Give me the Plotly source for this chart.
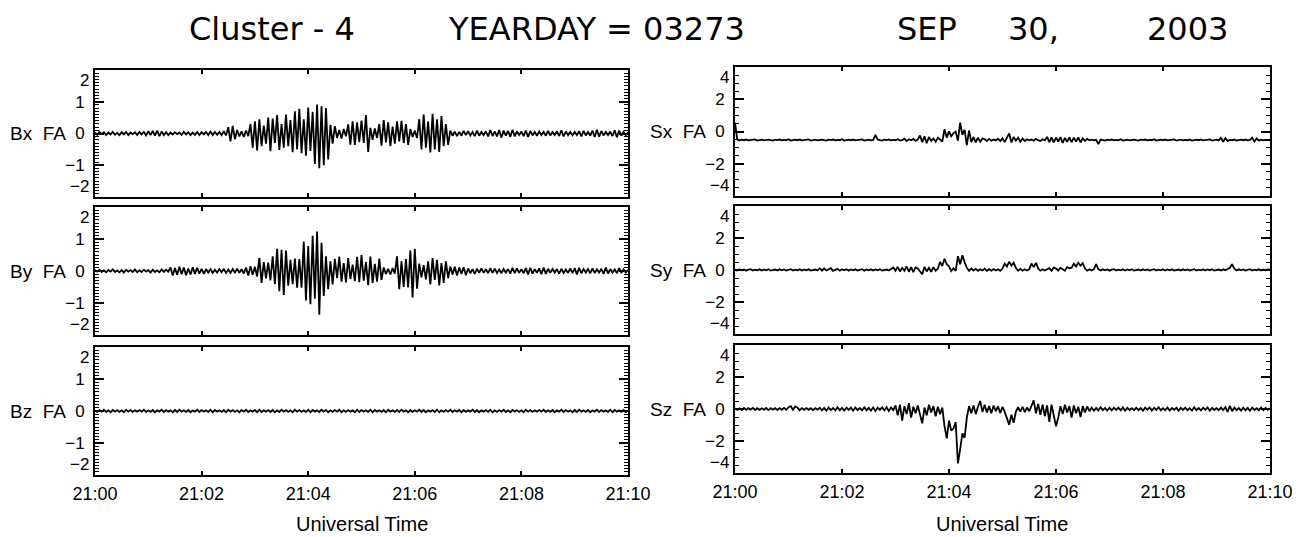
import pandas as pd
import plotly.graph_objects as go

# Field-aligned magnetic field components (nT) sampled every 2.5 s, 21:00-21:10 UT
bx = [0.03,-0.04,0.05,-0.02,0.04,-0.05,0.03,-0.03,0.05,-0.04,0.02,-0.05,0.04,-0.03,0.05,-0.05,0.03,-0.02,0.04,-0.05,
      0.05,-0.03,0.05,-0.06,0.07,-0.05,0.08,-0.07,0.09,-0.08,0.06,-0.05,0.04,-0.05,0.03,-0.03,0.04,-0.02,0.03,-0.04,
      0.05,-0.03,0.04,-0.05,0.03,-0.04,0.05,-0.05,0.04,-0.03,0.05,-0.05,0.06,-0.05,0.05,-0.04,0.05,-0.05,0.07,-0.06,
      0.20,-0.25,0.24,-0.18,0.11,-0.09,0.07,-0.11,0.09,-0.08,0.30,-0.45,0.38,-0.53,0.45,-0.40,0.25,-0.32,0.50,-0.56,
      0.47,-0.30,0.58,-0.52,0.30,-0.45,0.60,-0.40,0.42,-0.59,0.70,-0.50,0.78,-0.62,0.45,-0.70,0.82,-0.55,0.68,-0.96,
      0.91,-1.09,0.86,-1.00,0.80,-0.82,0.27,-0.32,0.23,-0.14,0.11,-0.16,0.14,-0.09,0.29,-0.35,0.38,-0.36,0.35,-0.27,
      0.41,-0.30,0.58,-0.58,0.18,-0.20,0.16,-0.14,0.30,-0.38,0.42,-0.28,0.35,-0.40,0.22,-0.32,0.38,-0.25,0.40,-0.30,
      0.30,-0.36,0.14,-0.11,0.09,-0.14,0.45,-0.50,0.60,-0.45,0.38,-0.60,0.62,-0.50,0.45,-0.58,0.55,-0.40,0.30,-0.36,
      0.09,-0.07,0.06,-0.08,0.05,-0.07,0.08,-0.05,0.07,-0.06,0.05,-0.08,0.09,-0.07,0.05,-0.05,0.07,-0.09,0.11,-0.08,
      0.07,-0.09,0.11,-0.13,0.09,-0.07,0.08,-0.10,0.12,-0.09,0.07,-0.05,0.06,-0.08,0.09,-0.11,0.08,-0.06,0.05,-0.07,
      0.06,-0.05,0.05,-0.07,0.08,-0.06,0.05,-0.05,0.07,-0.08,0.10,-0.09,0.06,-0.05,0.05,-0.06,0.05,-0.05,0.07,-0.09,
      0.08,-0.06,0.05,-0.07,0.09,-0.11,0.12,-0.10,0.08,-0.06,0.05,-0.05,0.06,-0.08,0.10,-0.12,0.09,-0.07,0.05,-0.05,0.04]

by = [0.03,-0.02,0.04,-0.03,0.02,-0.04,0.03,-0.02,0.05,-0.03,0.02,-0.04,0.03,-0.05,0.04,-0.02,0.03,-0.03,0.05,-0.04,
      0.02,-0.03,0.04,-0.02,0.03,-0.05,0.04,-0.03,0.02,-0.04,0.05,-0.03,0.04,-0.02,0.11,-0.14,0.09,-0.12,0.13,-0.10,
      0.11,-0.13,0.08,-0.11,0.12,-0.09,0.10,-0.08,0.07,-0.09,0.06,-0.05,0.06,-0.06,0.04,-0.05,0.06,-0.04,0.06,-0.06,
      0.05,-0.06,0.06,-0.05,0.07,-0.06,0.06,-0.08,0.11,-0.14,0.15,-0.12,0.13,-0.17,0.41,-0.37,0.28,-0.23,0.26,-0.29,
      0.46,-0.41,0.69,-0.63,0.66,-0.75,0.64,-0.46,0.35,-0.41,0.39,-0.52,0.37,-0.52,0.92,-0.92,0.78,-1.04,1.10,-0.87,
      1.23,-1.37,0.88,-0.78,0.46,-0.57,0.30,-0.42,0.38,-0.22,0.45,-0.33,0.25,-0.36,0.40,-0.25,0.20,-0.32,0.44,-0.35,
      0.50,-0.30,0.28,-0.44,0.45,-0.37,0.22,-0.33,0.39,-0.28,0.11,-0.09,0.07,-0.11,0.09,-0.08,0.46,-0.57,0.30,-0.50,
      0.37,-0.51,0.64,-0.83,0.69,-0.55,0.23,-0.20,0.18,-0.26,0.30,-0.42,0.40,-0.28,0.35,-0.45,0.25,-0.37,0.30,-0.22,
      0.14,-0.11,0.13,-0.14,0.11,-0.09,0.12,-0.13,0.08,-0.07,0.06,-0.09,0.07,-0.06,0.08,-0.06,0.06,-0.07,0.09,-0.06,
      0.07,-0.06,0.05,-0.07,0.06,-0.05,0.06,-0.08,0.10,-0.07,0.08,-0.06,0.06,-0.07,0.09,-0.11,0.10,-0.08,0.06,-0.06,
      0.08,-0.10,0.11,-0.09,0.07,-0.06,0.06,-0.05,0.06,-0.08,0.07,-0.06,0.05,-0.06,0.08,-0.07,0.09,-0.11,0.10,-0.07,
      0.06,-0.05,0.06,-0.07,0.08,-0.06,0.05,-0.05,0.07,-0.09,0.11,-0.08,0.06,-0.05,0.05,-0.07,0.09,-0.06,0.05,-0.05,0.04]

bz = [0.02,-0.03,0.03,-0.02,0.04,-0.03,0.02,-0.04,0.03,-0.02,0.03,-0.03,0.02,-0.04,0.04,-0.02,0.03,-0.03,0.02,-0.02,
      0.03,-0.02,0.04,-0.03,0.02,-0.03,0.03,-0.04,0.02,-0.02,0.04,-0.03,0.03,-0.02,0.02,-0.04,0.03,-0.03,0.04,-0.02,
      0.02,-0.03,0.03,-0.04,0.02,-0.02,0.04,-0.03,0.03,-0.02,0.02,-0.03,0.04,-0.04,0.03,-0.02,0.02,-0.03,0.03,-0.04,
      0.04,-0.02,0.03,-0.03,0.02,-0.04,0.03,-0.02,0.04,-0.03,0.02,-0.02,0.03,-0.04,0.04,-0.03,0.02,-0.02,0.03,-0.03,
      0.03,-0.04,0.02,-0.03,0.04,-0.02,0.03,-0.03,0.02,-0.04,0.04,-0.02,0.03,-0.03,0.02,-0.03,0.04,-0.04,0.03,-0.02,
      0.02,-0.03,0.04,-0.02,0.03,-0.04,0.02,-0.03,0.03,-0.02,0.04,-0.04,0.02,-0.03,0.03,-0.02,0.02,-0.04,0.04,-0.03,
      0.03,-0.02,0.02,-0.03,0.04,-0.04,0.03,-0.02,0.02,-0.03,0.03,-0.04,0.04,-0.02,0.02,-0.03,0.03,-0.03,0.04,-0.02,
      0.02,-0.04,0.03,-0.03,0.02,-0.02,0.04,-0.03,0.03,-0.04,0.02,-0.02,0.03,-0.03,0.04,-0.04,0.02,-0.03,0.03,-0.02,
      0.04,-0.03,0.02,-0.02,0.03,-0.04,0.03,-0.03,0.02,-0.02,0.04,-0.03,0.03,-0.04,0.02,-0.02,0.03,-0.03,0.04,-0.04,
      0.02,-0.03,0.03,-0.02,0.04,-0.03,0.02,-0.04,0.03,-0.02,0.03,-0.03,0.02,-0.04,0.04,-0.02,0.03,-0.03,0.02,-0.02,
      0.03,-0.02,0.04,-0.03,0.02,-0.03,0.03,-0.04,0.02,-0.02,0.04,-0.03,0.03,-0.02,0.02,-0.04,0.03,-0.03,0.04,-0.02,
      0.02,-0.03,0.03,-0.04,0.02,-0.02,0.04,-0.03,0.03,-0.02,0.02,-0.03,0.04,-0.04,0.03,-0.02,0.02,-0.03,0.03,-0.04,0.02]

# Field-aligned Poynting flux components on the same time base
sx = [0.55,-0.49,-0.56,-0.51,-0.54,-0.50,-0.55,-0.52,-0.53,-0.49,-0.56,-0.53,-0.51,-0.55,-0.52,-0.50,-0.54,-0.56,-0.51,-0.53,
      -0.50,-0.55,-0.52,-0.54,-0.48,-0.56,-0.53,-0.51,-0.54,-0.50,-0.55,-0.52,-0.53,-0.49,-0.56,-0.53,-0.51,-0.55,-0.52,-0.50,
      -0.54,-0.56,-0.51,-0.53,-0.50,-0.55,-0.52,-0.54,-0.48,-0.56,-0.53,-0.51,-0.54,-0.50,-0.55,-0.52,-0.53,-0.49,-0.56,-0.53,
      -0.51,-0.55,-0.52,-0.21,-0.50,-0.54,-0.56,-0.51,-0.53,-0.50,-0.55,-0.52,-0.54,-0.48,-0.56,-0.53,-0.44,-0.59,-0.48,-0.54,
      -0.46,-0.58,-0.50,-0.25,-0.66,-0.30,-0.73,-0.34,-0.59,-0.43,-0.64,-0.38,-0.48,-0.62,0.14,-0.38,0.01,-0.29,-0.10,-0.01,
      -0.57,0.55,-0.20,0.10,-0.84,0.06,-0.66,-0.34,-0.68,-0.38,-0.64,-0.43,-0.48,-0.59,-0.46,-0.57,-0.50,-0.55,-0.45,-0.60,
      -0.43,-0.66,-0.38,-0.12,-0.68,-0.34,-0.57,-0.38,-0.64,-0.43,-0.59,-0.48,-0.55,-0.50,-0.57,-0.46,-0.54,-0.59,-0.48,-0.55,
      -0.34,-0.66,-0.37,-0.68,-0.38,-0.62,-0.35,-0.71,-0.40,-0.64,-0.36,-0.66,-0.38,-0.63,-0.37,-0.68,-0.43,-0.59,-0.46,-0.55,
      -0.51,-0.55,-0.52,-0.78,-0.50,-0.54,-0.56,-0.51,-0.53,-0.50,-0.55,-0.52,-0.54,-0.48,-0.56,-0.53,-0.51,-0.55,-0.52,-0.50,
      -0.54,-0.56,-0.51,-0.53,-0.50,-0.55,-0.52,-0.54,-0.48,-0.56,-0.53,-0.51,-0.54,-0.50,-0.55,-0.52,-0.53,-0.49,-0.56,-0.53,
      -0.51,-0.55,-0.52,-0.54,-0.50,-0.56,-0.53,-0.51,-0.54,-0.50,-0.55,-0.52,-0.53,-0.49,-0.56,-0.53,-0.51,-0.55,-0.39,-0.64,
      -0.41,-0.59,-0.52,-0.54,-0.50,-0.56,-0.53,-0.51,-0.54,-0.50,-0.55,-0.52,-0.39,-0.63,-0.43,-0.57,-0.51,-0.55,-0.52,-0.54,-0.53]

sy = [0.02,-0.03,0.04,-0.02,0.03,-0.04,0.02,0.05,-0.03,0.02,-0.02,0.04,-0.03,0.03,-0.02,0.05,-0.04,0.02,0.03,-0.03,
      0.04,-0.02,0.03,-0.04,0.02,0.05,-0.03,0.02,-0.02,0.04,-0.03,0.03,-0.02,0.04,-0.04,0.02,0.03,-0.03,0.11,-0.04,
      0.09,-0.03,0.04,0.12,-0.05,0.03,0.07,-0.04,0.05,-0.02,0.05,-0.04,0.03,-0.02,0.04,-0.03,0.02,0.05,-0.04,0.03,
      -0.02,0.04,-0.03,0.03,-0.02,0.05,-0.04,0.02,0.03,-0.03,0.04,0.16,-0.05,0.20,-0.09,0.14,-0.05,0.22,-0.11,0.18,
      -0.14,0.16,0.09,-0.07,-0.27,0.20,-0.09,0.14,-0.11,0.18,-0.05,0.09,0.50,0.27,0.70,0.36,0.22,-0.07,0.11,-0.05,
      0.86,0.36,0.92,0.50,0.14,-0.05,0.09,-0.04,0.07,-0.05,0.05,-0.03,0.08,-0.05,0.05,-0.04,0.06,-0.03,0.05,-0.05,
      0.09,0.40,0.22,0.52,0.27,0.45,0.14,-0.05,0.07,-0.04,0.05,-0.03,0.05,0.40,0.18,0.45,0.09,-0.04,0.05,-0.03,
      0.05,0.11,-0.05,0.16,0.09,-0.04,0.14,0.07,-0.05,0.18,0.11,0.14,0.40,0.22,0.45,0.27,0.43,0.09,-0.04,0.05,
      -0.03,0.05,0.36,0.05,-0.03,0.04,-0.02,0.03,-0.04,0.02,0.05,-0.03,0.02,-0.02,0.04,-0.03,0.03,-0.02,0.05,-0.04,
      0.02,0.03,-0.03,0.04,-0.02,0.03,-0.04,0.02,0.05,-0.03,0.02,-0.02,0.04,-0.03,0.03,-0.02,0.04,-0.04,0.02,0.03,
      -0.03,0.04,-0.02,0.03,-0.04,0.02,0.05,-0.03,0.02,-0.02,0.04,-0.03,0.03,-0.02,0.05,-0.04,0.02,0.03,-0.03,0.04,
      -0.02,0.07,0.14,0.36,0.09,-0.03,0.04,-0.02,0.03,-0.04,0.02,0.05,-0.03,0.02,-0.02,0.04,-0.03,0.03,-0.02,0.04,0.02]

sz = [0.05,-0.05,0.04,-0.07,0.06,-0.05,0.05,-0.04,0.07,-0.06,0.05,-0.05,0.04,-0.05,0.06,-0.07,0.05,-0.04,0.05,-0.06,
      0.05,-0.05,0.07,-0.05,0.11,0.18,-0.05,0.16,0.09,-0.07,0.05,-0.05,0.06,-0.05,0.05,-0.07,0.05,-0.04,0.08,-0.09,
      0.07,-0.11,0.09,-0.07,0.06,-0.09,0.11,-0.08,0.07,-0.10,0.09,-0.06,0.08,-0.11,0.10,-0.07,0.06,-0.09,0.11,-0.08,
      0.07,-0.10,0.09,-0.12,0.08,-0.06,0.10,-0.09,0.11,-0.13,0.09,-0.07,0.22,-0.40,0.27,-0.72,0.18,-0.32,0.36,-0.54,
      0.14,-0.27,0.22,-0.45,-0.90,0.09,-0.40,0.27,-0.22,0.18,-0.45,0.14,-0.32,0.09,-1.08,-1.84,-0.72,-1.35,-1.22,-0.81,
      -3.40,-2.52,-1.53,-1.80,-0.54,0.18,-0.27,0.22,-0.32,0.14,0.50,-0.18,0.27,-0.22,0.18,-0.27,0.22,-0.14,0.16,-0.25,
      0.14,-0.18,-0.63,-0.99,-0.36,-0.86,-0.18,0.11,-0.16,0.14,-0.20,0.09,-0.14,0.16,0.54,-0.27,0.32,-0.36,0.27,-0.45,
      0.22,-0.81,0.27,-0.40,-1.08,-0.54,0.18,-0.32,0.27,-0.22,0.18,-0.54,0.22,-0.27,0.14,-0.50,0.18,-0.22,0.16,-0.14,
      0.09,-0.11,0.07,-0.09,0.11,-0.07,0.06,-0.10,0.08,-0.09,0.07,-0.06,0.09,-0.08,0.10,-0.11,0.07,-0.06,0.05,-0.08,
      0.09,-0.07,0.06,-0.11,0.08,-0.05,0.10,-0.09,0.07,-0.06,0.11,-0.08,0.05,-0.07,0.09,-0.10,0.06,-0.05,0.08,-0.11,
      0.07,-0.06,0.09,-0.08,0.05,-0.10,0.11,-0.07,0.06,-0.09,0.08,-0.05,0.10,-0.11,0.07,-0.06,0.05,-0.08,0.09,-0.07,
      0.11,-0.18,0.20,-0.14,0.09,-0.07,0.06,-0.10,0.08,-0.09,0.07,-0.11,0.09,-0.06,0.05,-0.08,0.10,-0.07,0.06,-0.05,0.05]

x_ticks = ["21:00", "21:02", "21:04", "21:06", "21:08", "21:10"]
b_ticks = [-2, -1, 0, 1, 2]
s_ticks = [-4, -2, 0, 2, 4]

t_start = "2003-09-30 21:00:00"
t_end = "2003-09-30 21:10:00"
times = pd.date_range(t_start, t_end, freq="2500ms")
for arr in (bx, by, bz, sx, sy, sz):
    assert len(arr) == len(times), len(arr)

W, H = 1302, 537
FONT = "Liberation Sans, Arial, Helvetica, sans-serif"
TITLE_FONT = "DejaVu Sans, Liberation Sans, sans-serif"
LEFT = [95 / W, 628 / W]
RIGHT = [735 / W, 1270 / W]


def ydom(top, bottom):
    return [1 - bottom / H, 1 - top / H]


def fmt(v):
    return str(v).replace("-", "\u2212")


panels = [
    ("Bx\u00a0\u00a0FA", bx, LEFT, ydom(70, 197), b_ticks, 0.1, False),
    ("By\u00a0\u00a0FA", by, LEFT, ydom(207, 335), b_ticks, 0.1, False),
    ("Bz\u00a0\u00a0FA", bz, LEFT, ydom(347, 475), b_ticks, 0.1, True),
    ("Sx\u00a0\u00a0FA", sx, RIGHT, ydom(67, 196), s_ticks, 0.5, False),
    ("Sy\u00a0\u00a0FA", sy, RIGHT, ydom(206, 334), s_ticks, 0.5, False),
    ("Sz\u00a0\u00a0FA", sz, RIGHT, ydom(345, 473), s_ticks, 0.5, True),
]

fig = go.Figure()
annotations = []
tick_times = pd.date_range(t_start, t_end, freq="2min")

for k, (label, vals, xd, yd, yt, ymin_dt, bottom) in enumerate(panels, start=1):
    sfx = "" if k == 1 else str(k)
    yr = [yt[0], yt[-1]]
    fig.add_trace(go.Scatter(
        x=times, y=vals, mode="lines",
        line=dict(color="black", width=1.8),
        xaxis="x" + sfx, yaxis="y" + sfx, showlegend=False, hoverinfo="skip",
    ))
    fig.layout["xaxis" + sfx] = dict(
        domain=xd, anchor="y" + sfx, type="date",
        range=[t_start, t_end], automargin=False,
        tickvals=tick_times, ticktext=x_ticks,
        ticks="inside", ticklen=4, tickwidth=1.5, tickcolor="black",
        showline=True, linewidth=2, linecolor="black", mirror="allticks",
        showgrid=False, zeroline=False, showticklabels=bottom,
        tickfont=dict(family=FONT, size=18, color="black"),
        ticklabelstandoff=1,
    )
    # end labels are drawn separately, tucked inside the panel height
    inner = [fmt(v) if v not in (yt[0], yt[-1]) else "" for v in yt]
    fig.layout["yaxis" + sfx] = dict(
        domain=yd, anchor="x" + sfx, range=yr, automargin=False,
        tickvals=yt, ticktext=inner,
        ticks="inside", ticklen=9, tickwidth=1.5, tickcolor="black",
        minor=dict(dtick=ymin_dt, ticks="inside", ticklen=4, tickwidth=1,
                   tickcolor="black", showgrid=False),
        showline=True, linewidth=2, linecolor="black", mirror="allticks",
        showgrid=False, zeroline=False,
        tickfont=dict(family=FONT, size=17, color="black"),
        ticklabelstandoff=5,
    )
    lx = (xd[0] * W - 5) / W
    annotations.append(dict(
        text=fmt(yt[-1]), xref="paper", yref="y" + sfx, x=lx, y=yt[-1],
        xanchor="right", yanchor="top", showarrow=False, borderpad=0,
        font=dict(family=FONT, size=17, color="black"),
    ))
    annotations.append(dict(
        text=fmt(yt[0]), xref="paper", yref="y" + sfx, x=lx, y=yt[0],
        xanchor="right", yanchor="bottom", showarrow=False, borderpad=0,
        font=dict(family=FONT, size=17, color="black"),
    ))
    annotations.append(dict(
        text=label, xref="paper", yref="y" + sfx,
        x=(xd[0] * W - 27) / W, y=0, xanchor="right", yanchor="middle",
        showarrow=False, font=dict(family=FONT, size=19, color="black"),
    ))

# Heading and axis titles
for txt, cx in [("Cluster - 4", 272), ("YEARDAY = 03273", 596),
                ("SEP", 927), ("30,", 1033), ("2003", 1187)]:
    annotations.append(dict(
        text=txt, xref="paper", yref="paper", x=cx / W, y=1 - 29 / H,
        xanchor="center", yanchor="middle", showarrow=False,
        font=dict(family=TITLE_FONT, size=32, color="black"),
    ))
for cx in [(LEFT[0] + LEFT[1]) / 2, (RIGHT[0] + RIGHT[1]) / 2]:
    annotations.append(dict(
        text="Universal Time", xref="paper", yref="paper", x=cx, y=1 - 524 / H,
        xanchor="center", yanchor="middle", showarrow=False,
        font=dict(family=FONT, size=20, color="black"),
    ))

fig.update_layout(
    width=W, height=H,
    margin=dict(l=0, r=0, t=0, b=0, pad=0, autoexpand=False),
    paper_bgcolor="white", plot_bgcolor="white",
    annotations=annotations,
)

fig.write_html("out.html")
